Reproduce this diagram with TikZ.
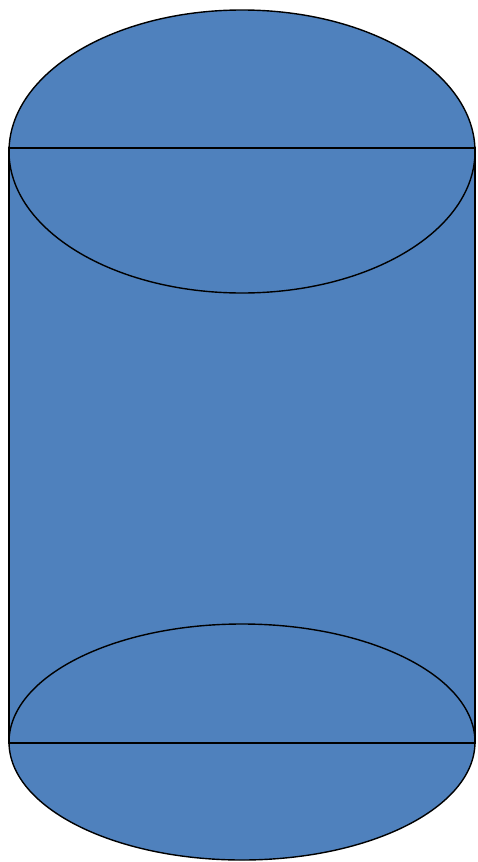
\documentclass[tikz,border=0pt]{standalone}
\usepackage{xcolor}
\usepackage{tikz}
\definecolor{drumblue}{HTML}{4F81BD}

\begin{document}
\begin{tikzpicture}[
  x=1pt, y=-1pt,
  body/.style={fill=drumblue, draw=black, line width=1.4pt},
  edge/.style={draw=black, line width=1.4pt}
]
\useasboundingbox (0,0) rectangle (477,862);

% fills
\fill[drumblue] (9,148) rectangle (475,743);
\fill[drumblue] (242,151.5) ellipse [x radius=233, y radius=141.5];
\fill[drumblue] (242,742) ellipse [x radius=233, y radius=118];

% outlines
\draw[edge] (9,148) rectangle (475,743);
\draw[edge] (242,151.5) ellipse [x radius=233, y radius=141.5];
\draw[edge] (242,742) ellipse [x radius=233, y radius=118];
\end{tikzpicture}
\end{document}
